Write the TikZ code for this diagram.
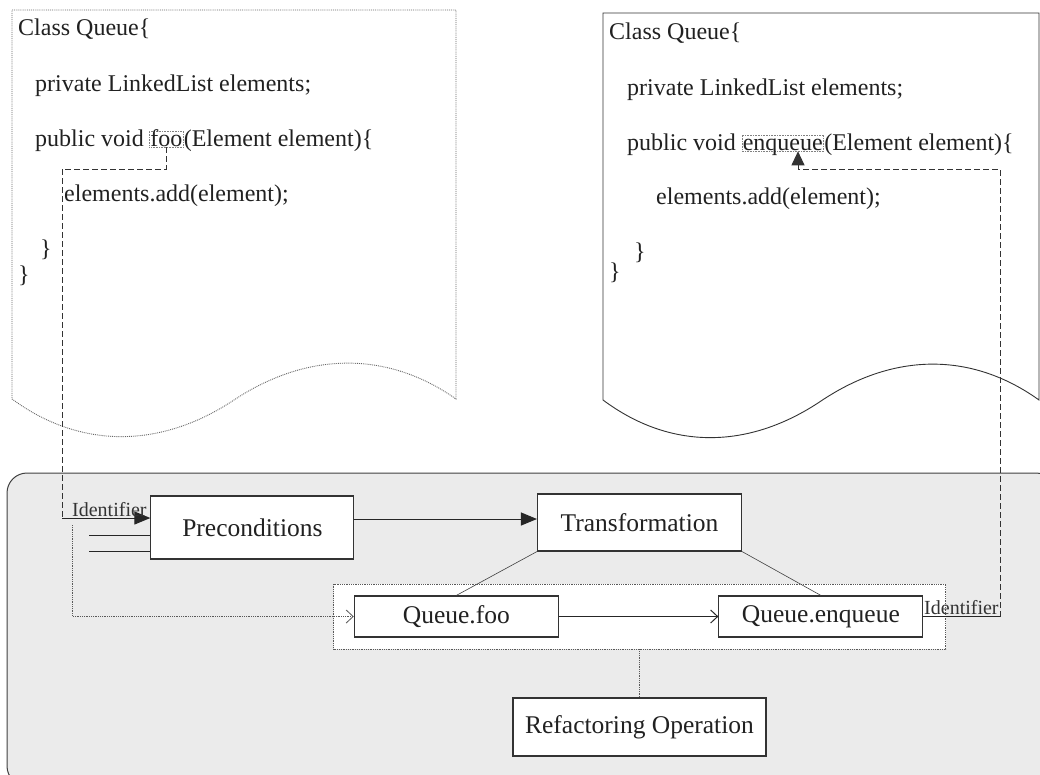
\documentclass[tikz,border=0pt]{standalone}
\usepackage{fontspec}
\setmainfont{Liberation Serif}
\usetikzlibrary{arrows.meta}

\begin{document}
\begin{tikzpicture}[x=1pt,y=-1pt,
  code/.style={font=\fontsize{24}{28}\selectfont, text=black!87, inner sep=0pt, anchor=base west},
  hilite/.style={code, draw=black!50, densely dotted, line width=0.6pt,
    inner xsep=1pt, inner ysep=0.8pt, text height=14pt, text depth=0.2pt},
  stepbox/.style={draw=black!80, line width=1.1pt, fill=white, inner sep=0pt,
    font=\fontsize{25.5}{30}\selectfont, text=black!87},
  idlabel/.style={font=\fontsize{20}{24}\selectfont, text=black!80, inner sep=0pt, anchor=base west},
  docpage/.style={fill=white, line width=0.9pt},
  dashconn/.style={draw=black!80, line width=1pt, dash pattern=on 6pt off 3pt},
  solidconn/.style={draw=black!85, line width=1pt},
  dotconn/.style={draw=black!65, line width=0.8pt, densely dotted},
  thinconn/.style={draw=black!75, line width=0.6pt},
  bigtip/.style={-{Triangle[length=16pt,width=13pt]}},
  opentip/.style={-{Straight Barb[length=7pt,width=13pt]}}
]
\useasboundingbox (0,0) rectangle (1040,774);
\clip (0,0) rectangle (1040,774);

% shaded panel holding the refactoring model
\path[draw=black!75, fill=black!8, line width=1pt, rounded corners=20pt]
  (7,473) rectangle (1056,786);

% source document (before)
\draw[docpage, draw=black!60, densely dotted] (12,10) -- (456,10) -- (456,399)
  .. controls (388,351) and (308,351) .. (234,400)
  .. controls (160,449) and (80,449) .. (12,399) -- cycle;
% target document (after)
\draw[docpage, draw=black!80] (603,13) -- (1039,13) -- (1039,400)
  .. controls (972,352) and (894,352) .. (821,401)
  .. controls (748,450) and (670,450) .. (603,400) -- cycle;

% code of the source class
\node[code] (la1) at (18,35) {Class Queue\{};
\node[code] (la2) at (35,91) {private LinkedList elements;};
\node[code] (la3) at (35,146) {public void};
\node[hilite] (foo) at (149,146) {foo};
\node[code] (la3b) at (foo.base east) {(Element element)\{};
\node[code] (la4) at (64,201) {elements.add(element);};
\node[code] (la5) at (40,256) {\}};
\node[code] (la6) at (18,282) {\}};

% code of the target class
\node[code] (lb1) at (609,39) {Class Queue\{};
\node[code] (lb2) at (627,95) {private LinkedList elements;};
\node[code] (lb3) at (627,150) {public void};
\node[hilite] (enq) at (741.5,150) {enqueue};
\node[code] (lb3b) at (enq.base east) {(Element element)\{};
\node[code] (lb4) at (656,204) {elements.add(element);};
\node[code] (lb5) at (634,259) {\}};
\node[code] (lb6) at (609,279) {\}};

% refactoring model
\node[stepbox, minimum width=203pt, minimum height=63pt] (pre) at (252.4,527.5) {Preconditions};
\node[stepbox, minimum width=204pt, minimum height=57pt] (trans) at (639.5,522.5) {Transformation};
\node[draw=black!65, densely dotted, line width=0.8pt, fill=white,
  minimum width=612pt, minimum height=65pt, inner sep=0pt] (group) at (639.5,616.5) {};
\node[stepbox, minimum width=204pt, minimum height=41pt] (qfoo) at (456.3,616.5) {Queue.foo};
\node[stepbox, minimum width=204pt, minimum height=41pt] (qenq) at (820.9,616.5) {Queue.enqueue};
\node[stepbox, minimum width=253pt, minimum height=58pt] (refop) at (639.5,727) {Refactoring Operation};

% identifier taken from the source
\coordinate (kneeA) at (62,169);
\coordinate (cornerA) at (62,518);
\draw[dashconn] (foo.south) |- (kneeA) -- (cornerA);
\draw[solidconn, bigtip] (cornerA) -- (cornerA -| pre.west);
\node[idlabel] (idA) at (72,516) {Identifier};

\coordinate (inA) at (89,535);
\coordinate (inB) at (89,551);
\draw[solidconn] (inA) -- (inA -| pre.west);
\draw[solidconn] (inB) -- (inB -| pre.west);

\coordinate (rowB) at (354,519);
\draw[solidconn, bigtip] (pre.east |- rowB) -- (trans.west |- rowB);

\coordinate (idstart) at (72.7,525);
\draw[dotconn, opentip] (idstart) |- (qfoo.west);

\draw[thinconn] (trans.south west) -- (qfoo.north);
\draw[thinconn] (trans.south east) -- (qenq.north);
\draw[solidconn, opentip] (qfoo.east) -- (qenq.west);
\draw[dotconn] (group.south) -- (refop.north);

% identifier written back into the target
\coordinate (idend) at (1001,616.5);
\coordinate (kneeB) at (1000,169);
\coordinate (kneeC) at (798,169);
\draw[solidconn] (qenq.east) -- (idend);
\node[idlabel] (idB) at (924,614) {Identifier};
\draw[dashconn, -{Triangle[length=14pt,width=13pt]}]
  (1000,616.5) -- (kneeB) -- (kneeC) -- (kneeC |- enq.south);
\end{tikzpicture}
\end{document}
